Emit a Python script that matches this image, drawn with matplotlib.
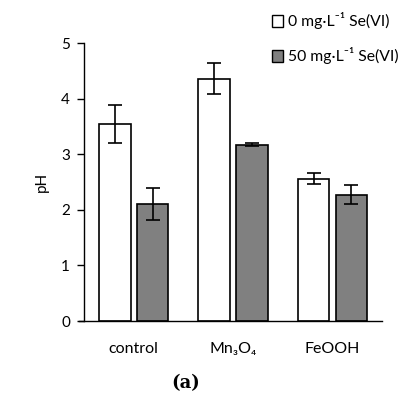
import numpy as np
import matplotlib.pyplot as plt
from matplotlib.patches import Patch

plt.rcParams['font.family'] = ['Lato', 'DejaVu Sans']

categories = ['control', 'Mn₃O₄', 'FeOOH']
ph_0 = [3.55, 4.36, 2.56]
err_0 = [0.34, 0.28, 0.10]
ph_50 = [2.10, 3.17, 2.27]
err_50 = [0.29, 0.03, 0.17]
legend_labels = ['0 mg·L⁻¹ Se(VI)', '50 mg·L⁻¹ Se(VI)']


def main():
    fig = plt.figure(figsize=(4.18, 4.04), dpi=100)
    ax = fig.add_axes([0.201, 0.2054, 0.713, 0.688])

    x = np.arange(len(categories))
    w = 0.316
    off = 0.19
    ekw = dict(elinewidth=1.2, capthick=1.2, ecolor='black')
    ax.bar(x - off, ph_0, w, color='white', edgecolor='black', linewidth=1.2,
           yerr=err_0, capsize=5, error_kw=ekw, zorder=2)
    ax.bar(x + off, ph_50, w, color='#808080', edgecolor='black', linewidth=1.2,
           yerr=err_50, capsize=5, error_kw=ekw, zorder=2)

    ax.set_xlim(-0.5, 2.5)
    ax.set_ylim(0, 5)
    ax.set_yticks(range(6))
    ax.set_xticks(x)
    ax.set_xticklabels(categories, fontsize=11.5)
    ax.tick_params(axis='x', length=0, pad=15)
    ax.tick_params(axis='y', length=5, width=1, labelsize=11, pad=5)
    ax.set_ylabel('pH', fontsize=11, labelpad=9)

    for s in ['top', 'right']:
        ax.spines[s].set_visible(False)
    ax.spines['left'].set_linewidth(1)
    ax.spines['bottom'].set_linewidth(1)
    ax.spines['bottom'].set_bounds(-0.555, 2.5)

    handles = [Patch(facecolor='white', edgecolor='black', linewidth=1),
               Patch(facecolor='#808080', edgecolor='black', linewidth=1)]
    fig.legend(handles, legend_labels, loc='upper left', bbox_to_anchor=(0.635, 0.985),
               frameon=False, fontsize=11.3, handlelength=0.75, handleheight=0.75,
               handletextpad=0.3, labelspacing=1.15, borderaxespad=0)

    fig.text(0.443, 0.052, '(a)', fontsize=13, fontweight='bold', family='DejaVu Serif',
             ha='center', va='center')

    fig.savefig('out.png', dpi=100)


if __name__ == '__main__':
    main()
